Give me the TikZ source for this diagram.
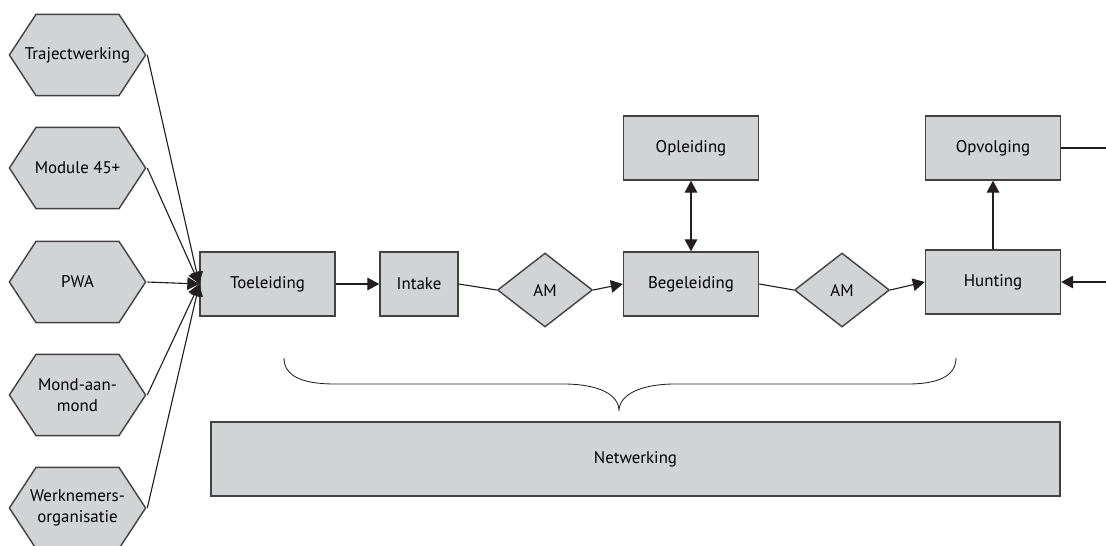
\documentclass[tikz,border=0pt]{standalone}
\usepackage{fontspec}
\setmainfont{PT Sans}
\usetikzlibrary{arrows.meta,shapes.geometric}

\definecolor{vulgrijs}{RGB}{209,211,212}
\definecolor{lijn}{RGB}{35,31,32}

\begin{document}
\begin{tikzpicture}[x=0.025cm, y=-0.025cm,
    >={Triangle[length=8.5pt, width=9pt]},
    font=\fontsize{12}{14.5}\selectfont,
    blok/.style={draw=lijn!85, line width=1pt, fill=vulgrijs,
        minimum width=3.375cm, minimum height=1.6cm, inner sep=2pt},
    zeshoek/.style={fill=white, minimum width=3.475cm, minimum height=2.1cm,
        inner sep=0pt, align=center,
        path picture={
            \draw[draw=lijn!85, line width=1pt, fill=vulgrijs]
                ([shift={(1pt,0)}]path picture bounding box.west)
                -- ([shift={(0.7cm,-1pt)}]path picture bounding box.north west)
                -- ([shift={(-0.7cm,-1pt)}]path picture bounding box.north east)
                -- ([shift={(-1pt,0)}]path picture bounding box.east)
                -- ([shift={(-0.7cm,1pt)}]path picture bounding box.south east)
                -- ([shift={(0.7cm,1pt)}]path picture bounding box.south west)
                -- cycle;
        }},
    ruit/.style={blok, shape=diamond, minimum width=2.375cm,
        minimum height=1.85cm, inner sep=0pt},
    pijl/.style={draw=lijn, line width=0.8pt}]

    % Fix the page size
    \useasboundingbox (0,0) rectangle (1106,546);

    % Sources on the left
    \node[zeshoek] (traject) at (77.5,55) {Trajectwerking};
    \node[zeshoek] (module)  at (77.5,168) {Module 45+};
    \node[zeshoek] (pwa)     at (77.5,282) {PWA};
    \node[zeshoek] (mond)    at (77.5,395) {Mond-aan-\\mond};
    \node[zeshoek] (werkn)   at (77.5,508) {Werknemers-\\organisatie};

    % Main row
    \node[blok] (toel) at (267.5,284) {Toeleiding};
    \node[blok, minimum width=1.95cm] (intake) at (419,284) {Intake};
    \node[ruit] (am1) at (545,290) {AM};
    \node[blok] (begel) at (691,284) {Begeleiding};
    \node[ruit] (am2) at (842,290) {AM};
    \node[blok] (hunt) at (993,282) {Hunting};

    % Top row
    \node[blok] (oplei)  at (691,148) {Opleiding};
    \node[blok] (opvolg) at (993,148) {Opvolging};

    % Bottom bar
    \node[blok, minimum width=21.225cm, minimum height=1.85cm] (netw) at (635.5,459) {Netwerking};

    % Loose ends on the right edge
    \coordinate (rechtsboven) at (1106,148);
    \coordinate (rechtsonder) at (1106,282);

    % Connectors
    \foreach \bron in {traject,module,pwa,mond,werkn}
        \draw[pijl,->] (\bron.east) -- (toel.west);
    \draw[pijl,->] (toel) -- (intake);
    \draw[pijl] (intake.east) -- (am1.west);
    \draw[pijl,->] (am1.east) -- (begel.west);
    \draw[pijl] (begel.east) -- (am2.west);
    \draw[pijl,->] (am2.east) -- (hunt.west);
    \draw[pijl,<->] (begel) -- (oplei);
    \draw[pijl,->] (hunt) -- (opvolg);
    \draw[pijl] (opvolg) -- (rechtsboven);
    \draw[pijl,->] (rechtsonder) -- (hunt);

    % Brace over the bar
    \draw[pijl, line width=0.6pt] (284,358) .. controls (284,375) and (300,384) .. (335,384)
        -- (563,384) .. controls (600,384) and (619,395) .. (619,411)
        .. controls (619,395) and (640,384) .. (675,384)
        -- (908,384) .. controls (940,384) and (956,375) .. (956,358);
\end{tikzpicture}
\end{document}
